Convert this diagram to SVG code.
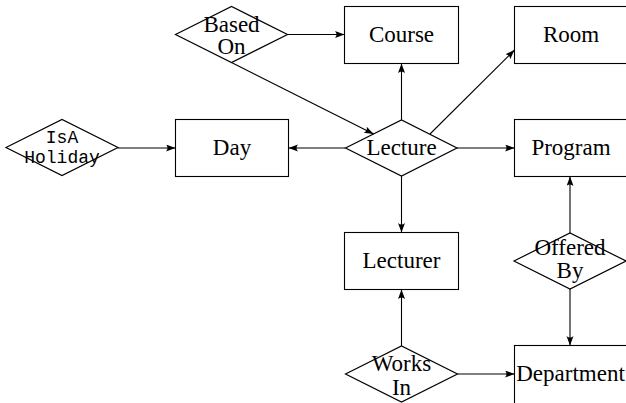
<svg xmlns="http://www.w3.org/2000/svg" width="626" height="403" viewBox="0 0 626 403">
  <style>
    .ent { fill: #ffffff; stroke: #000000; stroke-width: 1.1; }
    .rel { fill: none; stroke: #000000; stroke-width: 1.2; stroke-linejoin: miter; }
    .lbl { font-family: "Liberation Serif", "DejaVu Serif", serif; font-size: 23px; fill: #000000; text-anchor: middle; }
    .tt { font-family: "Liberation Mono", "DejaVu Sans Mono", monospace; font-size: 18px; fill: #000000; text-anchor: middle; }
    .edge { fill: none; stroke: #000000; stroke-width: 1.1; marker-end: url(#tip); }
  </style>
  <defs>
    <marker id="tip" markerUnits="userSpaceOnUse" markerWidth="10" markerHeight="8" refX="9.5" refY="3.5" orient="auto">
      <path d="M0,0 Q3,3.5 0,7 L9.5,3.5 Z" fill="#000000"/>
    </marker>
  </defs>
  <rect width="626" height="403" fill="#ffffff"/>

  <!-- connectors -->
  <g id="connectors">
    <path class="edge" d="M287.5,34.5 H344.5"/>
    <path class="edge" d="M231.5,62.5 L373.6,134"/>
    <path class="edge" d="M118,148 H175.5"/>
    <path class="edge" d="M345.5,148 H288.5"/>
    <path class="edge" d="M401.5,120 V63.5"/>
    <path class="edge" d="M430,134 L514.5,50"/>
    <path class="edge" d="M457,148 H514.5"/>
    <path class="edge" d="M401.5,176 V232.5"/>
    <path class="edge" d="M401.5,346 V289.5"/>
    <path class="edge" d="M457.5,374 H514.5"/>
    <path class="edge" d="M570,233 V176.5"/>
    <path class="edge" d="M570,289 V345.5"/>
  </g>

  <!-- entities -->
  <g id="course">
    <rect class="ent" x="344.5" y="6.5" width="114" height="57"/>
    <text class="lbl" x="401.5" y="42">Course</text>
  </g>
  <g id="room">
    <rect class="ent" x="514.5" y="6.5" width="114" height="57"/>
    <text class="lbl" x="571" y="42">Room</text>
  </g>
  <g id="day">
    <rect class="ent" x="175.5" y="119.5" width="113" height="57"/>
    <text class="lbl" x="232" y="155">Day</text>
  </g>
  <g id="program">
    <rect class="ent" x="514.5" y="119.5" width="114" height="57"/>
    <text class="lbl" x="571" y="155">Program</text>
  </g>
  <g id="lecturer">
    <rect class="ent" x="344.5" y="232.5" width="114" height="57"/>
    <text class="lbl" x="401.5" y="268">Lecturer</text>
  </g>
  <g id="department">
    <rect class="ent" x="514.5" y="345.5" width="114" height="60"/>
    <text class="lbl" x="570.5" y="381">Department</text>
  </g>

  <!-- relationships -->
  <g id="based-on">
    <polygon class="rel" points="175.5,34.5 231.5,6.5 287.5,34.5 231.5,62.5"/>
    <text class="lbl" x="231.5" y="31.5">Based</text>
    <text class="lbl" x="231.5" y="54">On</text>
  </g>
  <g id="isa-holiday">
    <polygon class="rel" points="6,147.5 62,119.5 118,147.5 62,175.5"/>
    <text class="tt" x="62" y="143.3">IsA</text>
    <text class="tt" x="62" y="163.3">Holiday</text>
  </g>
  <g id="lecture">
    <polygon class="rel" points="345.5,148 401.5,120 457,148 401.5,176"/>
    <text class="lbl" x="401.5" y="155">Lecture</text>
  </g>
  <g id="offered-by">
    <polygon class="rel" points="514,261 570,233 626,261 570,289"/>
    <text class="lbl" x="570" y="254.5">Offered</text>
    <text class="lbl" x="570" y="278">By</text>
  </g>
  <g id="works-in">
    <polygon class="rel" points="345.5,374 401.5,346 457.5,374 401.5,402"/>
    <text class="lbl" x="401.5" y="371">Works</text>
    <text class="lbl" x="401.5" y="394.5">In</text>
  </g>
</svg>
